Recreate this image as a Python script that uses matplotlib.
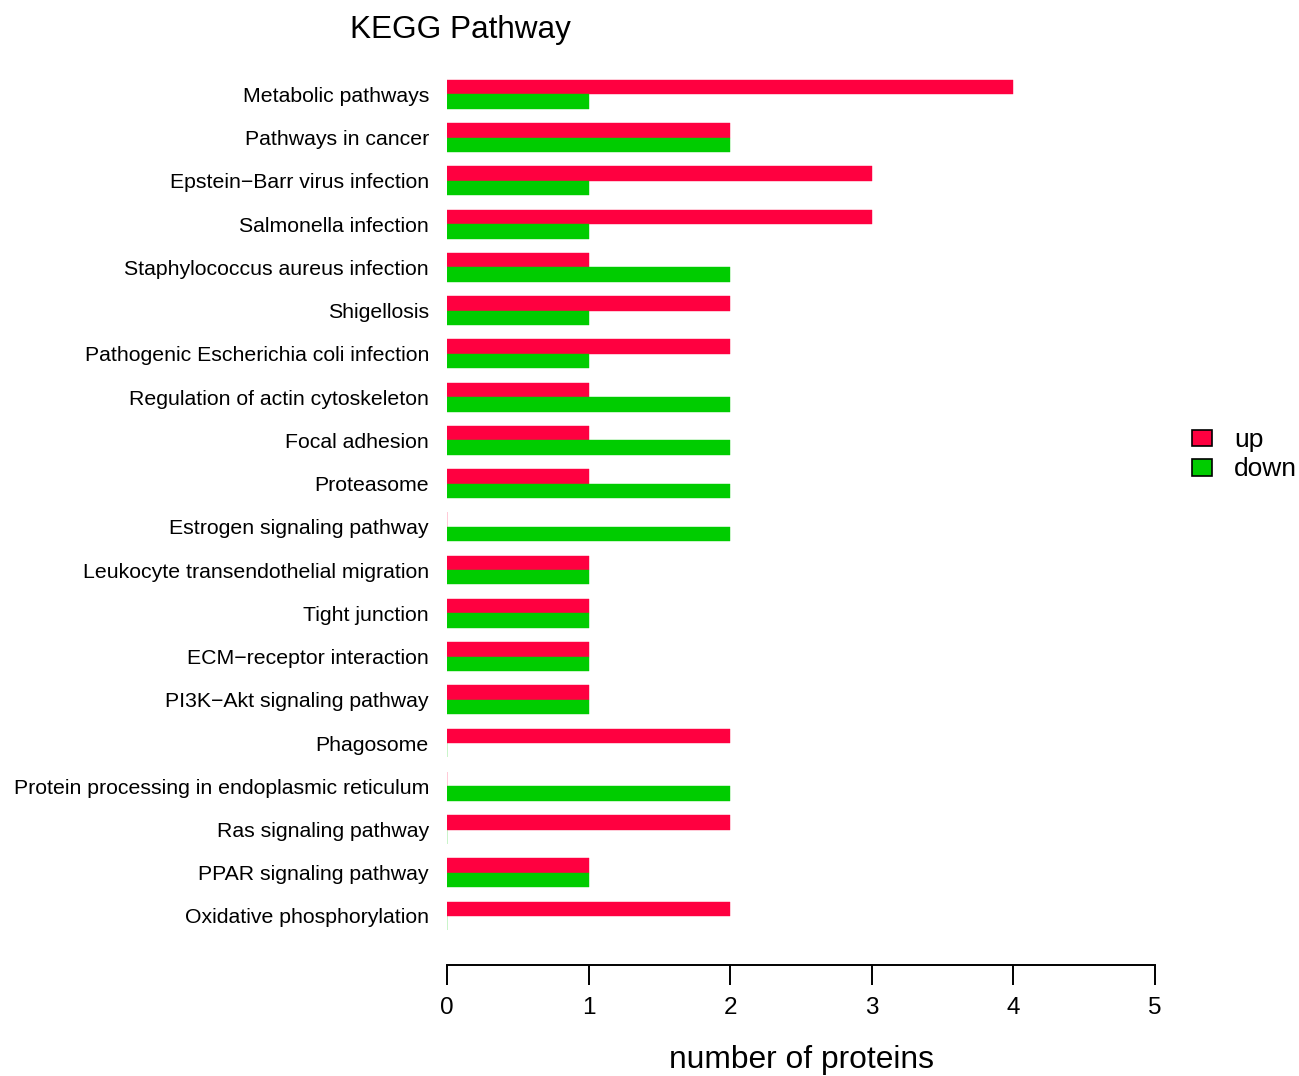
import matplotlib

matplotlib.use("Agg")
import matplotlib.pyplot as plt
import numpy as np
from matplotlib.patches import Patch

pathways = [
    "Metabolic pathways",
    "Pathways in cancer",
    "Epstein\u2212Barr virus infection",
    "Salmonella infection",
    "Staphylococcus aureus infection",
    "Shigellosis",
    "Pathogenic Escherichia coli infection",
    "Regulation of actin cytoskeleton",
    "Focal adhesion",
    "Proteasome",
    "Estrogen signaling pathway",
    "Leukocyte transendothelial migration",
    "Tight junction",
    "ECM\u2212receptor interaction",
    "PI3K\u2212Akt signaling pathway",
    "Phagosome",
    "Protein processing in endoplasmic reticulum",
    "Ras signaling pathway",
    "PPAR signaling pathway",
    "Oxidative phosphorylation",
]
up_counts = [4, 2, 3, 3, 1, 2, 2, 1, 1, 1, 0, 1, 1, 1, 1, 2, 0, 2, 1, 2]
down_counts = [1, 2, 1, 1, 2, 1, 1, 2, 2, 2, 2, 1, 1, 1, 1, 0, 2, 0, 1, 0]
x_ticks = [0, 1, 2, 3, 4, 5]

UP = "#FF0040"
DOWN = "#00CC00"

plt.rcParams["font.family"] = ["Liberation Sans", "DejaVu Sans"]

W, H = 1299, 1076
fig = plt.figure(figsize=(W / 100, H / 100), dpi=100)

# plot region in pixels: x 0..5 spans 447..1155, y axis line sits at 965
left, right = 447, 1155
top, bottom = 31, 965
ax = fig.add_axes([left / W, 1 - bottom / H, (right - left) / W, (bottom - top) / H])

# barplot(beside=TRUE) style layout: bar width 1, one unit gap between groups
n = len(pathways)
group_start = 1 + 3 * np.arange(n)
ax.barh(group_start + 0.5, up_counts, height=1.0, color=UP, edgecolor=UP, linewidth=0.3)
ax.barh(group_start + 1.5, down_counts, height=1.0, color=DOWN, edgecolor=DOWN, linewidth=0.3)

ax.set_xlim(0, 5)
ax.set_ylim(62.4, -2.4)

ax.set_yticks(group_start + 1)
ax.set_yticklabels(pathways, fontsize=15.3)
ax.tick_params(axis="y", length=0, pad=13)

ax.set_xticks(x_ticks)
ax.set_xticklabels([str(t) for t in x_ticks], fontsize=17.5)
ax.tick_params(axis="x", length=14.4, width=1.4, pad=9, direction="out")

for side in ["left", "right", "top"]:
    ax.spines[side].set_visible(False)
ax.spines["bottom"].set_linewidth(1.4)

fig.text(669 / W, 1 - 1060 / H, "number of proteins", fontsize=22.9, va="center", ha="left")
fig.text(350 / W, 1 - 30 / H, "KEGG Pathway", fontsize=22.7, va="center", ha="left")

handles = [
    Patch(facecolor=UP, edgecolor="black", linewidth=1.2, label="up"),
    Patch(facecolor=DOWN, edgecolor="black", linewidth=1.2, label="down"),
]
fig.legend(
    handles=handles,
    loc="upper left",
    bbox_to_anchor=(1179 / W, 1 - 415 / H),
    frameon=False,
    fontsize=19,
    handlelength=0.76,
    handleheight=0.6,
    handletextpad=0.82,
    labelspacing=0.2,
    borderpad=0,
)

fig.savefig("out.png", dpi=100)
